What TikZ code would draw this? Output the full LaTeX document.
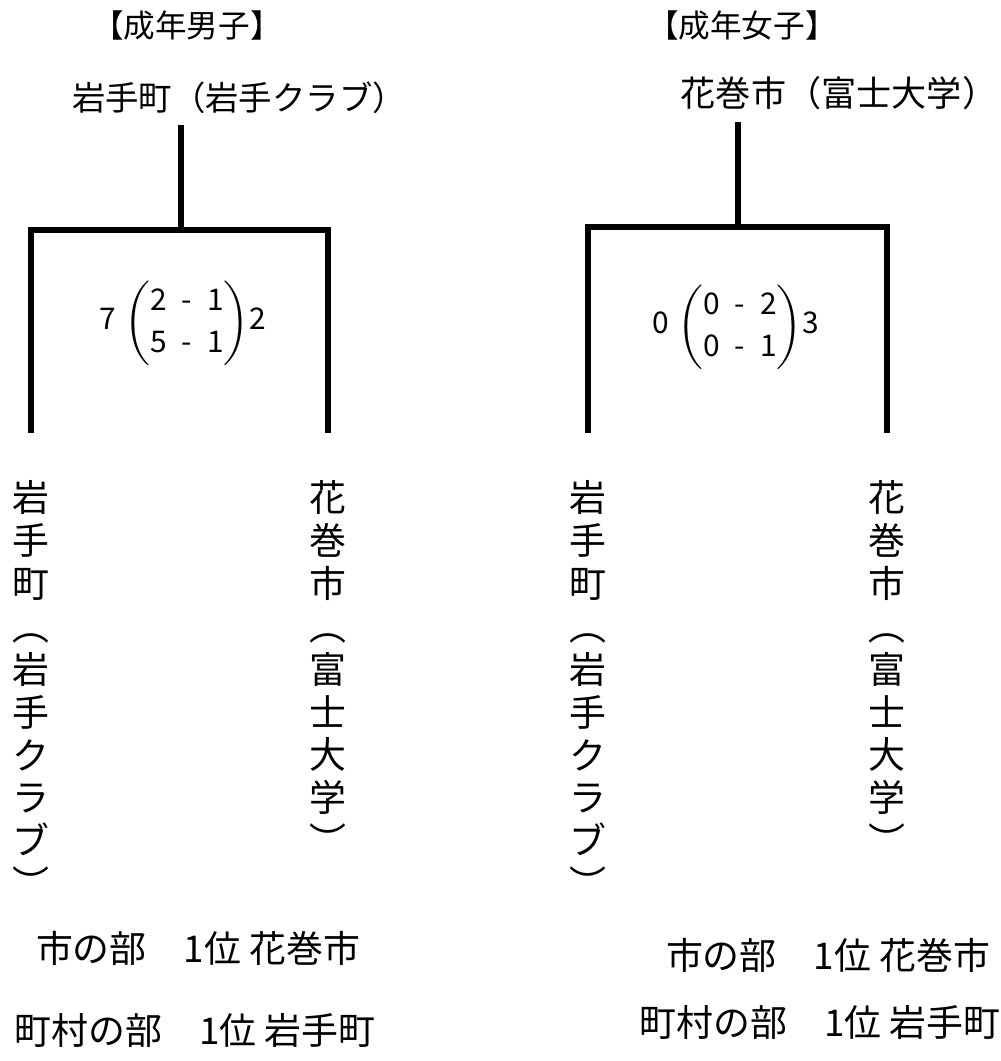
\documentclass[tikz,border=0pt]{standalone}
\usepackage{fontspec}
\newfontfamily\cjk{Noto Sans CJK JP}
\begin{document}
\begin{tikzpicture}[line cap=rect]
  % Styles
  \tikzstyle{bracket line}=[line width=1.5pt]
  \tikzstyle{title text}=[inner sep=0pt,font=\cjk\fontsize{9pt}{11pt}\selectfont]
  \tikzstyle{winner text}=[inner sep=0pt,font=\cjk\fontsize{9.5pt}{11pt}\selectfont]
  \tikzstyle{score text}=[inner sep=0pt,font=\cjk\fontsize{8.5pt}{12pt}\selectfont]
  \tikzstyle{team text}=[anchor=north,inner sep=0pt,align=center,
    font=\cjk\fontsize{10.5pt}{12.2pt}\selectfont]
  \tikzstyle{rank text}=[inner sep=0pt,font=\cjk\fontsize{10.5pt}{13pt}\selectfont]

  \useasboundingbox (0,0) rectangle (10.01,10.61);

  % Adult men
  \node[title text] (titleM) at (1.87,10.36) {【成年男子】};
  \node[winner text] (winM) at (2.39,9.63) {岩手町（岩手クラブ）};

  \coordinate (stemM) at (1.81,9.33);
  \coordinate (jointM) at (1.81,8.31);
  \coordinate (footMa) at (0.31,6.31);
  \coordinate (footMb) at (3.28,6.31);
  \draw[bracket line] (stemM) -- (jointM);
  \draw[bracket line] (footMa) |- (jointM) -| (footMb);

  \node[score text] (scoreM) at (1.83,7.39)
    {7\;$\bigg($\begin{tabular}{@{}c@{}}2\enspace-\enspace1\\5\enspace-\enspace1\end{tabular}$\bigg)$2};

  \node[team text] (teamMa) at (0.31,5.81) {岩\\手\\町\\︵\\岩\\手\\ク\\ラ\\ブ\\︶};
  \node[team text] (teamMb) at (3.28,5.81) {花\\巻\\市\\︵\\富\\士\\大\\学\\︶};

  \node[rank text] (cityM) at (1.98,1.13) {市の部\quad 1位 花巻市};
  \node[rank text] (townM) at (1.95,0.31) {町村の部\quad 1位 岩手町};

  % Adult women
  \node[title text] (titleW) at (7.42,10.36) {【成年女子】};
  \node[winner text,font=\cjk\fontsize{10pt}{12pt}\selectfont] (winW) at (8.39,9.68)
    {花巻市（富士大学）};

  \coordinate (stemW) at (7.38,9.36);
  \coordinate (jointW) at (7.38,8.34);
  \coordinate (footWa) at (5.88,6.31);
  \coordinate (footWb) at (8.87,6.31);
  \draw[bracket line] (stemW) -- (jointW);
  \draw[bracket line] (footWa) |- (jointW) -| (footWb);

  \node[score text] (scoreW) at (7.36,7.35)
    {0\;$\bigg($\begin{tabular}{@{}c@{}}0\enspace-\enspace2\\0\enspace-\enspace1\end{tabular}$\bigg)$3};

  \node[team text] (teamWa) at (5.88,5.81) {岩\\手\\町\\︵\\岩\\手\\ク\\ラ\\ブ\\︶};
  \node[team text] (teamWb) at (8.87,5.81) {花\\巻\\市\\︵\\富\\士\\大\\学\\︶};

  \node[rank text] (cityW) at (8.28,1.06) {市の部\quad 1位 花巻市};
  \node[rank text] (townW) at (8.20,0.39) {町村の部\quad 1位 岩手町};
\end{tikzpicture}
\end{document}
